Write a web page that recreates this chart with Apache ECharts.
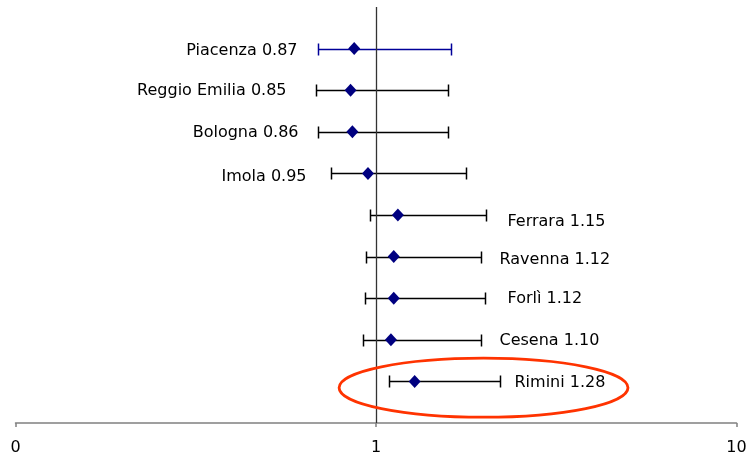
<!DOCTYPE html>
<html>
<head>
<meta charset="utf-8">
<script src="https://cdn.jsdelivr.net/npm/echarts@6/dist/echarts.min.js"></script>
<style>
  html, body { margin: 0; padding: 0; background: #fff; }
  #chart { width: 750px; height: 461px; }
</style>
</head>
<body>
<div id="chart"></div>
<script>
// ---- data (top to bottom) ----
const regions = ['Piacenza', 'Reggio Emilia', 'Bologna', 'Imola', 'Ferrara', 'Ravenna', 'Forlì', 'Cesena', 'Rimini'];
const rr      = [0.87, 0.85, 0.86, 0.95, 1.15, 1.12, 1.12, 1.10, 1.28];
const ciLow   = [0.69, 0.68, 0.69, 0.75, 0.96, 0.94, 0.93, 0.92, 1.09];
const ciHigh  = [1.61, 1.58, 1.58, 1.78, 2.02, 1.96, 2.00, 1.96, 2.21];
const xTicks  = [0.1, 1, 10];
const xTickLabels = ['0', '1', '10'];
// annotation ellipse around Rimini (data coords)
const highlightX = [0.79, 5.0];
const highlightY = [0.14, 1.56];

// ---- styles ----
const labelGap = [21, 30, 20, 25, 21, 18, 22, 18, 14];
const labelDy  = [1, 0, 0, 3, 6, 2, 0, 0, 1];
const barColors = ['#000099', '#000', '#000', '#000', '#000', '#000', '#000', '#000', '#000'];
const FONT = '16px "DejaVu Sans"';

const n = regions.length;
const rowY = regions.map((_, i) => n - i);

const barData = regions.map((name, i) => [ciLow[i], ciHigh[i], rowY[i], rr[i], i]);
const pointData = regions.map((name, i) => [rr[i], rowY[i]]);

const chart = echarts.init(document.getElementById('chart'));
chart.setOption({
  animation: false,
  grid: { left: 15.5, right: 13.5, top: 7, bottom: 38 },
  xAxis: {
    type: 'log', logBase: 10, min: 0.1, max: 10, interval: 1,
    axisLine: { show: true, lineStyle: { color: '#808080', width: 1.5 } },
    axisTick: { show: true, length: 4, lineStyle: { color: '#808080', width: 1.5 } },
    axisLabel: {
      margin: 17, color: '#000', fontFamily: 'DejaVu Sans', fontSize: 16,
      formatter: v => { const k = xTicks.findIndex(t => Math.abs(t - v) < 1e-9); return k >= 0 ? xTickLabels[k] : ''; }
    },
    splitLine: { show: false }
  },
  yAxis: {
    type: 'value', min: 0, max: 10, show: false
  },
  series: [
    {
      type: 'custom',
      data: barData,
      z: 3,
      renderItem: function (params, api) {
        const i = api.value(4);
        const y = Math.round(api.coord([1, api.value(2)])[1]) + 0.5;
        const x0 = Math.round(api.coord([api.value(0), api.value(2)])[0]) + 0.5;
        const x1 = Math.round(api.coord([api.value(1), api.value(2)])[0]) + 0.5;
        const c = barColors[i];
        const ls = { stroke: c, lineWidth: 1.5 };
        const cap = 6;
        const isLeft = rr[i] < 1;
        const text = regions[i] + ' ' + rr[i].toFixed(2);
        return {
          type: 'group',
          children: [
            { type: 'line', shape: { x1: x0, y1: y, x2: x1, y2: y }, style: ls },
            { type: 'line', shape: { x1: x0, y1: y - cap, x2: x0, y2: y + cap }, style: ls },
            { type: 'line', shape: { x1: x1, y1: y - cap, x2: x1, y2: y + cap }, style: ls },
            {
              type: 'text',
              x: isLeft ? x0 - labelGap[i] : x1 + labelGap[i],
              y: y + labelDy[i],
              style: {
                text: text, font: FONT, fill: '#000',
                align: isLeft ? 'right' : 'left', verticalAlign: 'middle'
              }
            }
          ]
        };
      }
    },
    {
      type: 'scatter',
      data: pointData,
      symbol: 'diamond',
      symbolSize: [12, 13],
      itemStyle: { color: '#000080', opacity: 1 },
      z: 4,
      markLine: {
        silent: true, symbol: 'none', label: { show: false },
        lineStyle: { color: '#333', width: 1.3, type: 'solid' },
        data: [{ xAxis: 1 }]
      }
    },
    {
      type: 'custom',
      data: [[highlightX[0], highlightX[1], highlightY[0], highlightY[1]]],
      z: 5,
      renderItem: function (params, api) {
        const a = api.coord([api.value(0), api.value(3)]);
        const b = api.coord([api.value(1), api.value(2)]);
        return {
          type: 'ellipse',
          shape: { cx: (a[0] + b[0]) / 2, cy: (a[1] + b[1]) / 2, rx: Math.abs(b[0] - a[0]) / 2, ry: Math.abs(b[1] - a[1]) / 2 },
          style: { fill: 'none', stroke: '#ff3300', lineWidth: 2.8 }
        };
      }
    }
  ]
});
</script>
</body>
</html>
